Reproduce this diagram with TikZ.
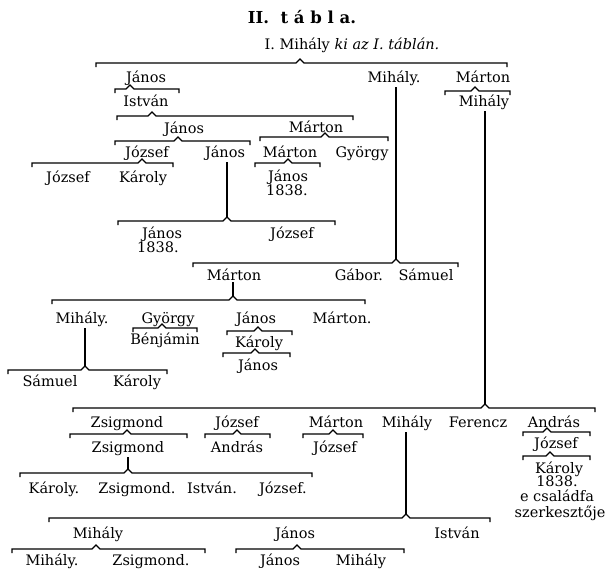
\documentclass[tikz,border=0pt]{standalone}
\usepackage{fontspec}
\setmainfont{DejaVu Serif}
\newcommand\brc[5]{%
  \coordinate (#1) at (#5,#4-4);
  \draw[ln] (#2,#4+4) -- (#2,#4) -- (#5-4,#4) -- (#1) -- (#5+4,#4) -- (#3,#4) -- (#3,#4+4);}
\newcommand\pn[4]{\node[pn] (#1) at (#2,#3+5) {#4};}
\begin{document}
\begin{tikzpicture}[x=1pt,y=-1pt,
  ln/.style={line width=1.1pt,line join=miter},
  pn/.style={anchor=base,inner sep=0pt,font=\fontsize{14.5}{17}\selectfont},
  vl/.style={ln,shorten <=2pt}]
\useasboundingbox[fill=white] (0,0) rectangle (610,573);
% title
\node[anchor=base,inner sep=0pt,font=\fontsize{16.5}{20}\selectfont\bfseries] (title) at (302,23) {II.~~t á b l a.};
\node[pn] (root) at (352,49) {I. Mihály \textit{ki az I. táblán.}};
\brc{c0}{96}{507}{63}{300}
% upper part
\pn{a1}{146}{77}{János}
\pn{a2}{394}{77}{Mihály.}
\pn{a3}{483}{77}{Márton}
\brc{c1}{115}{179}{89}{130}
\brc{c2}{445}{510}{91}{475}
\pn{b1}{146}{101}{István}
\pn{b3}{484}{101}{Mihály}
\brc{c3}{117}{353}{116}{152}
\pn{d1}{184}{128}{János}
\pn{d2}{316}{127}{Márton}
\brc{c4}{115}{250}{141}{178}
\brc{c5}{260}{388}{137}{325}
\pn{e1}{147}{152}{József}
\pn{e2}{225}{152}{János}
\pn{e3}{290}{152}{Márton}
\pn{e4}{362}{152}{György}
\brc{c6}{32}{173}{163}{142}
\brc{c7}{255}{320}{163}{288}
\pn{f1}{68}{177}{József}
\pn{f2}{143}{177}{Károly}
\pn{f3}{288}{176}{János}
\pn{f4}{287}{190}{1838.}
\brc{c8}{118}{335}{221}{227}
\draw[vl] (c8 |- e2.south) -- (c8);
\pn{g1}{162}{233}{János}
\pn{g2}{158}{247}{1838.}
\pn{g3}{292}{233}{József}
% Mihály. branch
\brc{c9}{193}{458}{263}{396}
\draw[vl] (c9 |- a2.south) -- (c9);
\pn{h1}{234}{275}{Márton}
\pn{h2}{359}{275}{Gábor.}
\pn{h3}{426}{275}{Sámuel}
\brc{c10}{52}{365}{300}{233}
\draw[vl] (c10 |- h1.south) -- (c10);
\pn{i1}{82}{318}{Mihály.}
\pn{i2}{168}{318}{György}
\pn{i3}{256}{318}{János}
\pn{i4}{342}{318}{Márton.}
\brc{c11}{133}{197}{328}{162}
\brc{c12}{227}{292}{331}{258}
\pn{j1}{165}{339}{Bénjámin}
\pn{j2}{259}{342}{Károly}
\brc{c13}{223}{290}{353}{255}
\pn{k1}{258}{365}{János}
\brc{c14}{8}{167}{370}{85}
\draw[vl] (c14 |- i1.south) -- (c14);
\pn{l1}{50}{381}{Sámuel}
\pn{l2}{137}{381}{Károly}
% lower part
\brc{c15}{73}{595}{408}{485}
\draw[vl] (c15 |- b3.south) -- (c15);
\pn{m1}{127}{422}{Zsigmond}
\pn{m2}{237}{422}{József}
\pn{m3}{336}{422}{Márton}
\pn{m4}{407}{422}{Mihály}
\pn{m5}{478}{422}{Ferencz}
\pn{m6}{554}{422}{András}
\brc{c16}{70}{187}{434}{127}
\brc{c17}{205}{270}{434}{237}
\brc{c18}{303}{363}{434}{333}
\brc{c19}{523}{590}{432}{547}
\pn{n1}{128}{447}{Zsigmond}
\pn{n2}{237}{447}{András}
\pn{n3}{335}{447}{József}
\pn{n4}{556}{443}{József}
\brc{c20}{523}{590}{456}{550}
\pn{o1}{559}{468}{Károly}
\pn{o2}{557}{481}{1838.}
\pn{o3}{557}{496}{e családfa}
\pn{o4}{560}{512}{szerkesztője}
\brc{c21}{20}{312}{473}{128}
\draw[vl] (c21 |- n1.south) -- (c21);
\pn{p1}{54}{488}{Károly.}
\pn{p2}{137}{488}{Zsigmond.}
\pn{p3}{212}{488}{István.}
\pn{p4}{283}{488}{József.}
\brc{c22}{49}{490}{518}{406}
\draw[vl] (c22 |- m4.south) -- (c22);
\pn{q1}{98}{533}{Mihály}
\pn{q2}{295}{533}{János}
\pn{q3}{457}{533}{István}
\brc{c23}{12}{205}{549}{96}
\brc{c24}{236}{404}{549}{297}
\pn{r1}{52}{560}{Mihály.}
\pn{r2}{151}{560}{Zsigmond.}
\pn{r3}{280}{560}{János}
\pn{r4}{361}{560}{Mihály}
\end{tikzpicture}
\end{document}
